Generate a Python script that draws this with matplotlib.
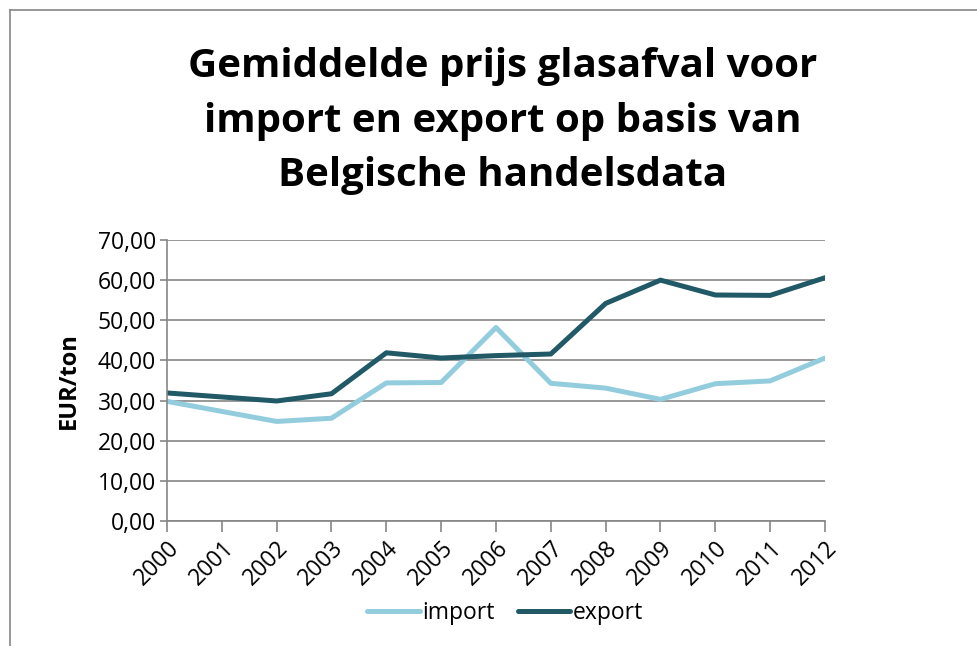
import matplotlib.pyplot as plt
from matplotlib.lines import Line2D
from matplotlib.ticker import FuncFormatter

# Data
years = ['2000', '2001', '2002', '2003', '2004', '2005', '2006',
         '2007', '2008', '2009', '2010', '2011', '2012']
import_prices = [29.8, 27.3, 24.8, 25.6, 34.4, 34.5, 48.2,
                 34.3, 33.1, 30.3, 34.2, 34.9, 40.6]
export_prices = [31.9, 30.9, 29.9, 31.7, 41.9, 40.6, 41.2,
                 41.6, 54.2, 60.0, 56.3, 56.2, 60.6]

plt.rcParams['font.family'] = ['Open Sans', 'DejaVu Sans']

fig = plt.figure(figsize=(9.78, 6.46), dpi=100)
ax = fig.add_axes([167 / 978, 1 - 521 / 646, (825 - 167) / 978, (521 - 240) / 646])

x = range(len(years))
ax.plot(x, import_prices, color='#93CDDD', lw=3.6, label='import', solid_capstyle='round')
ax.plot(x, export_prices, color='#215967', lw=3.6, label='export', solid_capstyle='round')

ax.set_xlim(0, len(years) - 1)
ax.set_ylim(0, 70)
ax.set_yticks(range(0, 71, 10))
ax.yaxis.set_major_formatter(FuncFormatter(lambda v, p: f'{v:.2f}'.replace('.', ',')))
ax.set_xticks(list(x))
ax.set_xticklabels(years, rotation=45, ha='right', rotation_mode='anchor')

ax.grid(axis='y', color='#868686', lw=1.2)
ax.set_axisbelow(True)
for s in ['top', 'right']:
    ax.spines[s].set_visible(False)
for s in ['left', 'bottom']:
    ax.spines[s].set_color('#868686')
    ax.spines[s].set_linewidth(1.2)
ax.tick_params(axis='both', colors='#868686', labelcolor='black', labelsize=16.5)
ax.tick_params(axis='x', length=8, width=1.2, pad=3)
ax.tick_params(axis='y', length=5, width=1.2, pad=3)

ax.set_ylabel('EUR/ton', fontsize=17, fontweight='bold', labelpad=12)

fig.text(0.514, 1 - 47 / 646, 'Gemiddelde prijs glasafval voor\nimport en export op basis van\nBelgische handelsdata',
         ha='center', va='top', fontsize=29, fontweight='bold', linespacing=1.52)

ax.legend(loc='center', bbox_to_anchor=(505 / 978, 1 - 613 / 646),
          bbox_transform=fig.transFigure, ncol=2, frameon=False, fontsize=16.5,
          handlelength=2.3, handletextpad=0.1, columnspacing=1.0)

# chart border (only top and left visible)
fig.add_artist(Line2D([10 / 978, 1], [1 - 10 / 646] * 2, color='#868686', lw=1.2))
fig.add_artist(Line2D([10 / 978] * 2, [0, 1 - 10 / 646], color='#868686', lw=1.2))

fig.savefig('out.png', dpi=100)
